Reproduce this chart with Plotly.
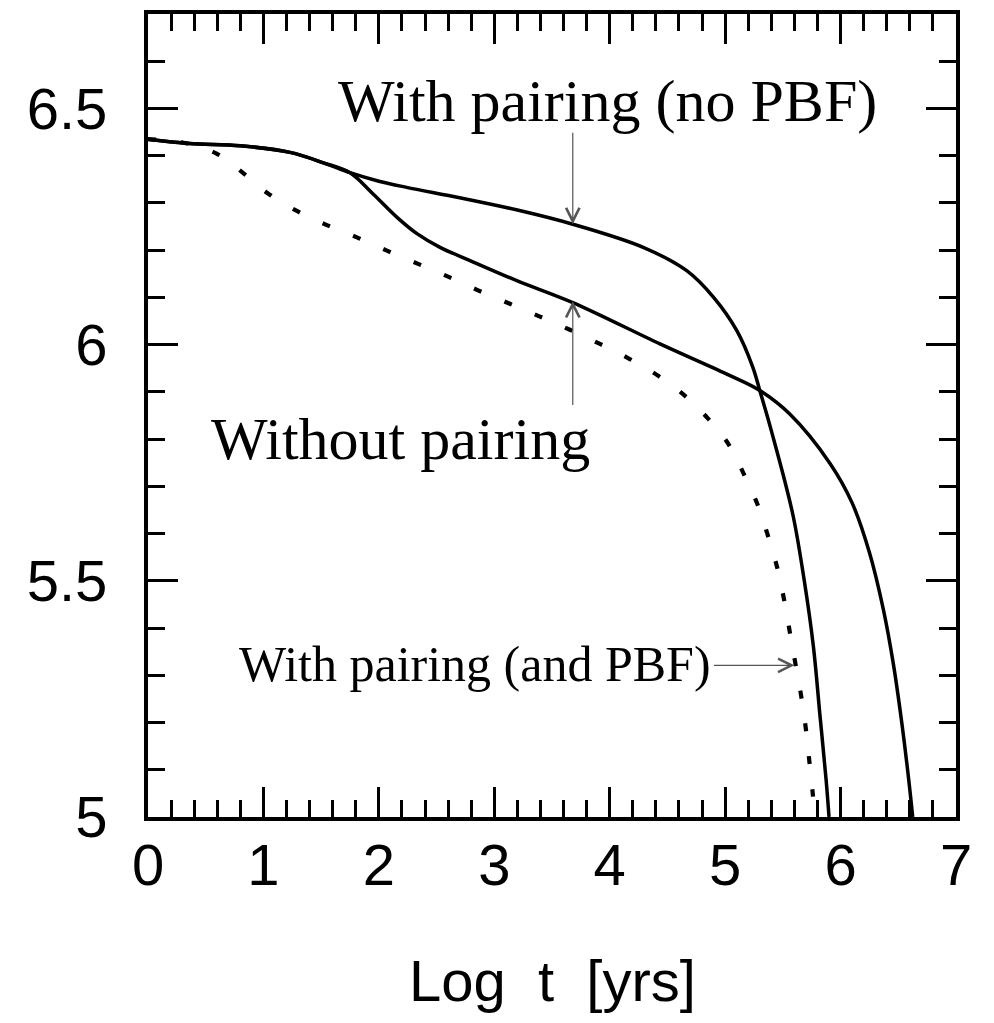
import plotly.graph_objects as go

# Curve: With pairing (no PBF)
x_nopbf = [0, 0.36, 0.80, 1.23, 1.52, 1.75, 2.0, 2.24, 2.70, 3.2, 3.68, 4.29, 4.67, 4.90, 5.10, 5.24, 5.30,
           5.40, 5.585, 5.685, 5.765, 5.82, 5.875, 5.90]
y_nopbf = [6.435, 6.426, 6.421, 6.407, 6.385, 6.364, 6.346, 6.333, 6.311, 6.285, 6.255, 6.206, 6.156, 6.100, 6.030, 5.952, 5.903,
           5.818, 5.642, 5.501, 5.360, 5.219, 5.078, 5.0]

# Curve: Without pairing
x_nopair = [0, 0.36, 0.80, 1.23, 1.52, 1.75, 1.95, 2.16, 2.33, 2.53, 2.79, 3.2, 3.68, 4.44, 5.01, 5.30,
            5.56, 5.91, 6.10, 6.25, 6.37, 6.46, 6.53, 6.59, 6.625]
y_nopair = [6.435, 6.426, 6.421, 6.407, 6.385, 6.364, 6.319, 6.269, 6.235, 6.206, 6.178, 6.135, 6.089, 6.001, 5.938, 5.903,
            5.853, 5.748, 5.665, 5.560, 5.440, 5.320, 5.200, 5.080, 5.0]

# Curve: With pairing (and PBF) - dotted
x_pbf = [0, 0.3, 0.59, 0.82, 1.04, 1.29, 1.55, 1.81, 2.07, 2.34, 2.60, 2.86, 3.13, 3.39, 3.65, 3.92, 4.17, 4.42,
         4.65, 4.85, 5.03, 5.16, 5.28, 5.37, 5.45, 5.51, 5.56, 5.61, 5.66, 5.70, 5.73, 5.76, 5.775]
y_pbf = [6.435, 6.428, 6.405, 6.364, 6.320, 6.283, 6.253, 6.227, 6.199, 6.171, 6.144, 6.115, 6.087, 6.060, 6.032, 6.001, 5.970, 5.934,
         5.892, 5.844, 5.789, 5.727, 5.662, 5.596, 5.529, 5.461, 5.392, 5.323, 5.254, 5.185, 5.117, 5.047, 5.0]

x_range = [0, 7]
y_range = [5, 6.7]

fig = go.Figure()
fig.add_trace(go.Scatter(x=x_pbf, y=y_pbf, mode="lines",
                         line=dict(color="black", width=4.2, dash="8px,25px", shape="spline", smoothing=1.0)))
fig.add_trace(go.Scatter(x=x_nopair, y=y_nopair, mode="lines",
                         line=dict(color="black", width=3.5, shape="spline", smoothing=1.0)))
fig.add_trace(go.Scatter(x=x_nopbf, y=y_nopbf, mode="lines",
                         line=dict(color="black", width=3.5, shape="spline", smoothing=1.0)))

axis_common = dict(showline=True, linecolor="black", linewidth=4, mirror="ticks",
                   ticks="inside", tickcolor="black", tickwidth=3, ticklen=30,
                   showgrid=False, zeroline=False,
                   tickfont=dict(family="Liberation Sans", size=58, color="black"))

fig.update_xaxes(range=x_range, dtick=1, tick0=0, ticklabelstandoff=-6,
                 minor=dict(dtick=0.2, ticks="inside", ticklen=17, tickwidth=3, tickcolor="black"),
                 **axis_common)
fig.update_yaxes(range=y_range, dtick=0.5, tick0=5, ticklabelstandoff=25,
                 minor=dict(dtick=0.1, ticks="inside", ticklen=17, tickwidth=3, tickcolor="black"),
                 **axis_common)

arrow_color = "#555555"
# Arrows
fig.add_annotation(x=3.68, y=6.255, ax=3.68, ay=6.452, xref="x", yref="y", axref="x", ayref="y",
                   text="", showarrow=True, arrowhead=5, arrowsize=2.2, arrowwidth=1.2, arrowcolor=arrow_color)
fig.add_annotation(x=3.68, y=6.092, ax=3.68, ay=5.869, xref="x", yref="y", axref="x", ayref="y",
                   text="", showarrow=True, arrowhead=5, arrowsize=2.2, arrowwidth=1.2, arrowcolor=arrow_color)
fig.add_annotation(x=5.60, y=5.321, ax=4.89, ay=5.321, xref="x", yref="y", axref="x", ayref="y",
                   text="", showarrow=True, arrowhead=5, arrowsize=2.2, arrowwidth=1.2, arrowcolor=arrow_color)

# Labels
serif = "Liberation Serif"
fig.add_annotation(x=3.98, y=6.516, xref="x", yref="y", text="With pairing (no PBF)", showarrow=False,
                   font=dict(family=serif, size=60, color="black"))
fig.add_annotation(x=2.19, y=5.801, xref="x", yref="y", text="Without pairing", showarrow=False,
                   font=dict(family=serif, size=60, color="black"))
fig.add_annotation(x=2.83, y=5.323, xref="x", yref="y", text="With pairing (and PBF)", showarrow=False,
                   font=dict(family=serif, size=50, color="black"))

# X axis title
fig.add_annotation(x=0.5, y=-0.247, xref="paper", yref="paper",
                   text="Log\u00a0\u00a0t\u00a0\u00a0[yrs]", showarrow=False,
                   font=dict(family="Liberation Sans", size=58, color="black"))

fig.update_layout(width=994, height=1023, margin=dict(l=148, r=38, t=10, b=206),
                  paper_bgcolor="white", plot_bgcolor="white", showlegend=False)

fig.write_html("out.html")
